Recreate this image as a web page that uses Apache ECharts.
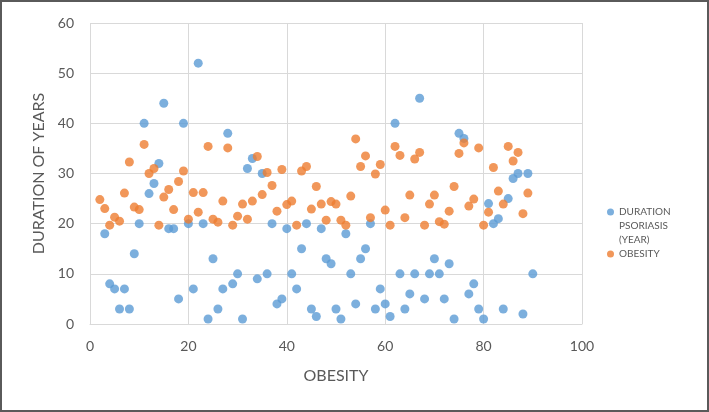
<!DOCTYPE html>
<html>
<head>
<meta charset="utf-8">
<script src="https://cdn.jsdelivr.net/npm/echarts@6/dist/echarts.min.js"></script>
<style>
html,body{margin:0;padding:0;background:#fff;}
#wrap{position:relative;width:709px;height:412px;}
#chart{width:709px;height:412px;}
#frame{position:absolute;left:0;top:0;width:709px;height:412px;box-sizing:border-box;border:2px solid #5a5a5a;pointer-events:none;}
</style>
</head>
<body>
<div id="wrap"><div id="chart"></div><div id="frame"></div></div>
<script>
// Blue series: DURATION PSORIASIS (YEAR)
const durationX = [3,4,5,6,7,8,9,10,11,12,13,14,15,16,17,18,19,20,21,22,23,24,25,26,27,28,29,30,31,32,33,34,35,36,37,38,39,40,41,42,43,44,45,46,47,48,49,50,51,52,53,54,55,56,57,58,59,60,61,62,63,64,65,66,67,68,69,70,71,72,73,74,75,76,77,78,79,80,81,82,83,84,85,86,87,88,89,90];
const durationY = [18,8,7,3,7,3,14,20,40,26,28,32,44,19,19,5,40,20,7,52,20,1,13,3,7,38,8,10,1,31,33,9,30,10,20,4,5,19,10,7,15,20,3,1.5,19,13,12,3,1,18,10,4,13,15,20,3,7,4,1.5,40,10,3,6,10,45,5,10,13,10,5,12,1,38,37,6,8,3,1,24,20,21,3,25,29,30,2,30,10];
// Orange series: OBESITY
const obesityX = [2,3,4,5,6,7,8,9,10,11,12,13,14,15,16,17,18,19,20,21,22,23,24,25,26,27,28,29,30,31,32,33,34,35,36,37,38,39,40,41,42,43,44,45,46,47,48,49,50,51,52,53,54,55,56,57,58,59,60,61,62,63,64,65,66,67,68,69,70,71,72,73,74,75,76,77,78,79,80,81,82,83,84,85,86,87,88,89];
const obesityY = [24.8,23,19.7,21.3,20.5,26.1,32.3,23.3,22.8,35.8,30,31,19.7,25.3,26.8,22.8,28.4,30.5,20.9,26.2,22.3,26.2,35.4,20.9,20.3,24.5,35.1,19.7,21.5,23.9,20.9,24.5,33.4,25.8,30.2,27.6,22.5,30.8,23.8,24.5,19.7,30.5,31.4,22.9,27.4,23.9,20.7,24.4,23.9,20.7,19.7,25.5,36.9,31.4,33.5,21.2,29.9,31.8,22.7,19.7,35.4,33.6,21.2,25.7,32.9,34.2,19.7,23.9,25.7,20.4,19.9,22.5,27.4,34,36.1,23.5,24.9,35.1,19.7,22.3,31.2,26.5,23.9,35.4,32.5,34.2,22,26.1];
const xTicks = {min:0, max:100, interval:20};
const yTicks = {min:0, max:60, interval:10};
const seriesNames = ['DURATION PSORIASIS (YEAR)', 'OBESITY'];

const zip = (xs, ys) => xs.map((x, i) => [x, ys[i]]);
const FONT = 'Lato';
const GRAY = '#595959';
const GRID = '#d9d9d9';

const chart = echarts.init(document.getElementById('chart'));
chart.setOption({
  animation: false,
  backgroundColor: '#fff',
  grid: {left: 90, right: 127, top: 23, bottom: 88, containLabel: false},
  xAxis: {
    type: 'value', min: xTicks.min, max: xTicks.max, interval: xTicks.interval,
    name: 'OBESITY', nameLocation: 'middle', nameGap: 44,
    nameTextStyle: {fontFamily: FONT, fontSize: 16, color: GRAY},
    axisLine: {show: true, lineStyle: {color: GRID, width: 1}},
    axisTick: {show: false},
    axisLabel: {fontFamily: FONT, fontSize: 14, color: GRAY, margin: 15},
    splitLine: {show: true, lineStyle: {color: GRID, width: 1}}
  },
  yAxis: {
    type: 'value', min: yTicks.min, max: yTicks.max, interval: yTicks.interval,
    name: 'DURATION OF YEARS', nameLocation: 'middle', nameGap: 42,
    nameTextStyle: {fontFamily: FONT, fontSize: 16, color: GRAY},
    axisLine: {show: false},
    axisTick: {show: false},
    axisLabel: {fontFamily: FONT, fontSize: 14, color: GRAY, margin: 16},
    splitLine: {show: true, lineStyle: {color: GRID, width: 1}}
  },
  legend: {
    orient: 'vertical', left: 607, top: 177, padding: 0, itemGap: 0,
    itemWidth: 7, itemHeight: 7, icon: 'circle',
    textStyle: {fontFamily: FONT, fontSize: 10, color: GRAY, lineHeight: 14},
    formatter: (n) => n === seriesNames[0] ? ' \n \nDURATION\nPSORIASIS\n(YEAR)' : n,
    data: seriesNames
  },
  series: [
    {name: seriesNames[0], type: 'scatter', symbol: 'circle', symbolSize: 9,
     itemStyle: {color: '#5B9BD5'}, data: zip(durationX, durationY), z: 2},
    {name: seriesNames[1], type: 'scatter', symbol: 'circle', symbolSize: 9,
     itemStyle: {color: '#ED7D31'}, data: zip(obesityX, obesityY), z: 3}
  ]
});
</script>
</body>
</html>
